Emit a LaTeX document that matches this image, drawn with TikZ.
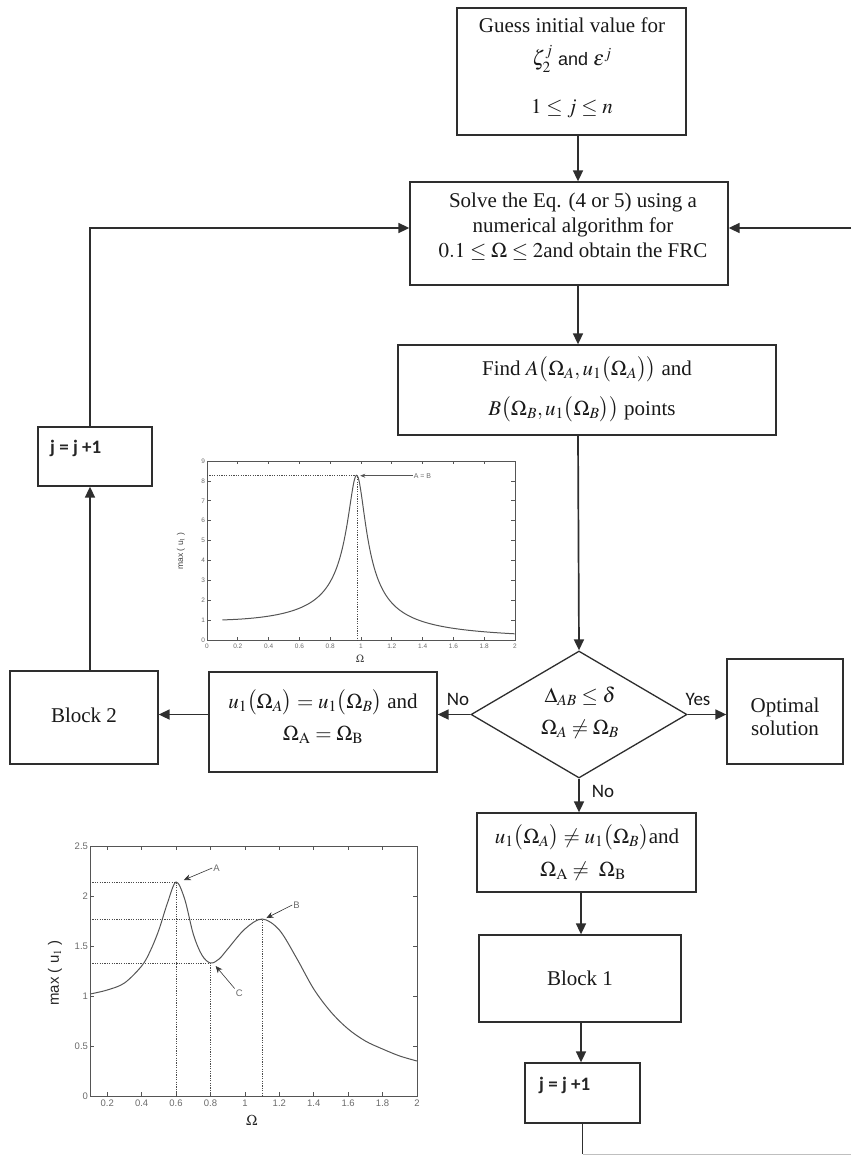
\documentclass[tikz,border=0pt]{standalone}
\usepackage{mathptmx}
\usepackage{fontspec}
\setmainfont{Liberation Serif}
\newfontfamily\calfont{Carlito}
\newfontfamily\helvfont{Liberation Sans}
\usetikzlibrary{arrows.meta,shapes.geometric}
\definecolor{boxc}{HTML}{2E2E2E}
\definecolor{plotc}{HTML}{555555}
\definecolor{tickc}{HTML}{6A6A6A}
\begin{document}
\begin{tikzpicture}[x=1pt,y=-1pt,
  box/.style={draw=boxc, line width=1.3pt, fill=white, inner sep=0pt},
  flow/.style={draw=boxc, line width=1.7pt, -{Triangle[length=11pt,width=10pt]}},
  txt/.style={font=\fontsize{21}{25}\selectfont, inner sep=0pt, text=black!90},
  lbl/.style={font=\calfont\fontsize{19}{19}\selectfont, inner sep=0pt, text=black!90},
  jtxt/.style={font=\calfont\bfseries\fontsize{19}{19}\selectfont, inner sep=0pt, text=black!85},
  stick/.style={font=\helvfont\fontsize{6.5}{7}\selectfont, text=tickc, inner sep=1pt},
  btick/.style={font=\helvfont\fontsize{9.5}{10}\selectfont, text=tickc, inner sep=1pt},
  pline/.style={draw=plotc, line width=1pt},
  frame/.style={draw=plotc, line width=0.7pt},
  dline/.style={draw=black!70, line width=0.7pt, dash pattern=on 1.2pt off 1.2pt}
]
\useasboundingbox (0,0) rectangle (851,1156);

% ---------------- boxes ----------------
\node[box, minimum width=229pt, minimum height=127pt] (guess) at (571.5,71.5) {};
\node[box, minimum width=318pt, minimum height=103pt] (solve) at (569,233.5) {};
\node[box, minimum width=378pt, minimum height=90pt] (find) at (587,390) {};
\node[draw=boxc, line width=1.3pt, fill=white, diamond, inner sep=0pt,
      minimum width=216pt, minimum height=127pt] (dia) at (579,714.5) {};
\node[box, minimum width=228pt, minimum height=100pt] (u1eq) at (323,722) {};
\node[box, minimum width=116pt, minimum height=105pt] (opt) at (785,711.5) {};
\node[box, minimum width=219pt, minimum height=79pt] (u1ne) at (586.5,852.5) {};
\node[box, minimum width=202pt, minimum height=87pt] (block1) at (580,978.5) {};
\node[box, minimum width=115pt, minimum height=60pt] (jbot) at (582.5,1093) {};
\node[box, minimum width=148pt, minimum height=93pt] (block2) at (84,717.5) {};
\node[box, minimum width=114pt, minimum height=59pt] (jtop) at (95,456.5) {};

% ---------------- texts ----------------
\node[txt, anchor=base] (g1) at (572,33) {Guess initial value for};
\node[txt, anchor=base] (g2) at (572,66) {$\zeta_2^j$ {\helvfont\fontsize{18}{18}\selectfont and} $\varepsilon^j$};
\node[txt, anchor=base] (g3) at (572,113) {$1\le j\le n$};

\node[txt, anchor=base] (s1) at (573,207) {Solve the Eq. (4 or 5) using a};
\node[txt, anchor=base] (s2) at (573,232) {numerical algorithm for};
\node[txt, anchor=base] (s3) at (573,257) {$0.1\le\Omega\le2$and obtain the FRC};

\node[txt, anchor=base] (f1) at (587,375) {Find $A\bigl(\Omega_A,u_1\bigl(\Omega_A\bigr)\bigr)$ and};
\node[txt, anchor=base] (f2) at (582,415) {$B\bigl(\Omega_B,u_1\bigl(\Omega_B\bigr)\bigr)$ points};

\node[txt, anchor=base] (d1) at (580,702) {$\Delta_{AB}\le\delta$};
\node[txt, anchor=base] (d2) at (580,734) {$\Omega_A\ne\Omega_B$};

\node[txt, anchor=base] (e1) at (323,708) {$u_1\bigl(\Omega_A\bigr)=u_1\bigl(\Omega_B\bigr)$ and};
\node[txt, anchor=base] (e2) at (323,740) {$\Omega_{\mathrm{A}}=\Omega_{\mathrm{B}}$};

\node[txt, anchor=base] (o1) at (785,712) {Optimal};
\node[txt, anchor=base] (o2) at (785,735) {solution};

\node[txt, anchor=base] (n1) at (587,843) {$u_1\bigl(\Omega_A\bigr)\ne u_1\bigl(\Omega_B\bigr)$and};
\node[txt, anchor=base] (n2) at (583,876) {$\Omega_{\mathrm{A}}\ne\ \Omega_{\mathrm{B}}$};

\node[txt] (b1t) at (block1.center) {Block 1};
\node[txt] (b2t) at (84,715) {Block 2};

\node[jtxt, anchor=base west] (jt) at (50,453) {j = j +1};
\node[jtxt, anchor=base west] (jb) at (539,1090) {j = j +1};

\node[lbl, anchor=base] (no1) at (458,705) {No};
\node[lbl, anchor=base] (yes) at (698,705) {Yes};
\node[lbl, anchor=base] (no2) at (603,797) {No};

% ---------------- connectors ----------------
\coordinate (colx) at (578,0);
\coordinate (colb) at (581,0);
\coordinate (lx) at (90,0);
\coordinate (ly) at (0,228);
\coordinate (redge) at (851,228);
\coordinate (bot) at (0,1154);
\coordinate (botr) at (851,1154);

\draw[flow] (colx |- guess.south) -- (colx |- solve.north);
\draw[flow] (colx |- solve.south) -- (colx |- find.north);
\draw[flow] (colx |- find.south) -- (dia.north);
\draw[flow] (dia.west) -- (u1eq.east |- dia.west);
\draw[flow] (dia.east) -- (opt.west |- dia.east);
\draw[flow] (dia.south) -- (dia.south |- u1ne.north);
\draw[flow] (colb |- u1ne.south) -- (colb |- block1.north);
\draw[flow] (colb |- block1.south) -- (colb |- jbot.north);
\draw[boxc, line width=1.7pt] (jbot.south) -- (jbot.south |- bot);
\draw[black!25, line width=0.8pt] (jbot.south |- bot) -- (botr);
\draw[flow] (redge) -- (solve.east |- redge);
\draw[flow] (u1eq.west |- dia.west) -- (block2.east |- dia.west);
\draw[flow] (lx |- block2.north) -- (lx |- jtop.south);
\draw[flow] (lx |- jtop.north) -- (lx |- ly) -- (solve.west |- ly);

% ---------------- small plot ----------------
\begin{scope}[shift={(207,640)}, x=154pt, y=19.889pt]
  \draw[frame] (0,0) rectangle (2,9);
  \foreach \i in {0,...,10}{
    \pgfmathsetmacro{\t}{\i/5}
    \draw[frame] (\t,0) -- ++(0,0.15);
    \draw[frame] (\t,9) -- ++(0,-0.15);
  }
  \foreach \t/\l [count=\k] in {0/0,0.2/0.2,0.4/0.4,0.6/0.6,0.8/0.8,1/1,1.2/1.2,1.4/1.4,1.6/1.6,1.8/1.8,2/2}{
    \node[stick, anchor=north] (sx\k) at (\t,-0.15) {\l};
  }
  \foreach \v in {0,...,9}{
    \draw[frame] (0,\v) -- ++(0.025,0);
    \draw[frame] (2,\v) -- ++(-0.025,0);
    \node[stick, anchor=east] (sy\v) at (-0.005,\v) {\v};
  }
  \draw[pline] plot[domain=0.1:2, samples=300, smooth]
    (\x,{1/sqrt((1-(\x/0.975)^2)^2+(0.121*\x/0.975)^2)});
  \draw[dline] (0,8.26) -- (0.975,8.26) -- (0.975,0);
  \node[stick, anchor=west, font=\helvfont\fontsize{7}{7}\selectfont] (ab) at (1.335,8.26) {A = B};
  \draw[plotc, line width=0.6pt, -{Stealth[length=5pt,width=4pt]}] (ab.west) -- (0.995,8.26);
\end{scope}
\node[font=\helvfont\fontsize{8.5}{9}\selectfont, text=black!75, rotate=90] (sylab) at (181,551) {max ( u$_1$ )};
\node[font=\fontsize{11}{11}\selectfont, text=black!75] (sxlab) at (360,659) {$\Omega$};

% ---------------- big plot ----------------
\begin{scope}[shift={(72.8,1096)}, x=172.1pt, y=100pt]
  \draw[frame] (0.1,0) rectangle (2,2.5);
  \foreach \i in {1,...,10}{
    \pgfmathsetmacro{\t}{\i/5}
    \draw[frame] (\t,0) -- ++(0,0.04);
    \draw[frame] (\t,2.5) -- ++(0,-0.04);
  }
  \foreach \t/\l [count=\k] in {0.2/0.2,0.4/0.4,0.6/0.6,0.8/0.8,1/1,1.2/1.2,1.4/1.4,1.6/1.6,1.8/1.8,2/2}{
    \node[btick, anchor=north] (bx\k) at (\t,-0.03) {\l};
  }
  \foreach \v/\l [count=\k] in {0/0,0.5/0.5,1/1,1.5/1.5,2/2,2.5/2.5}{
    \draw[frame] (0.1,\v) -- ++(0.025,0);
    \draw[frame] (2,\v) -- ++(-0.025,0);
    \node[btick, anchor=east] (by\k) at (0.095,\v) {\l};
  }
  \draw[pline] plot[smooth, tension=0.55] coordinates {
    (0.1,1.02) (0.2,1.06) (0.3,1.13) (0.4,1.30) (0.45,1.45) (0.5,1.66)
    (0.55,1.93) (0.6,2.14) (0.65,1.97) (0.7,1.62) (0.75,1.41) (0.8,1.33)
    (0.85,1.37) (0.9,1.47) (1.0,1.67) (1.1,1.77) (1.2,1.66) (1.3,1.38)
    (1.4,1.07) (1.5,0.84) (1.6,0.67) (1.7,0.55) (1.8,0.47) (1.9,0.40) (2.0,0.35)};
  \draw[dline] (0.1,2.14) -- (0.6,2.14) -- (0.6,0);
  \draw[dline] (0.1,1.77) -- (1.1,1.77) -- (1.1,0);
  \draw[dline] (0.1,1.33) -- (0.8,1.33) -- (0.8,0);
  \node[btick, anchor=west] (la) at (0.81,2.28) {A};
  \node[btick, anchor=west] (lb) at (1.275,1.91) {B};
  \node[btick, anchor=west] (lc) at (0.94,1.03) {C};
  \draw[black!80, line width=0.6pt, -{Stealth[length=7pt,width=6pt]}] (la.west) -- (0.645,2.16);
  \draw[black!80, line width=0.6pt, -{Stealth[length=7pt,width=6pt]}] (lb.west) -- (1.125,1.78);
  \draw[black!80, line width=0.6pt, -{Stealth[length=7pt,width=6pt]}] (lc.north west) -- (0.83,1.3);
\end{scope}
\node[font=\helvfont\fontsize{15}{15}\selectfont, text=black!85, rotate=90] (bylab) at (55,973) {max ( u$_1$ )};
\node[font=\fontsize{15}{15}\selectfont, text=black!85] (bxlab) at (252,1120) {$\Omega$};
\end{tikzpicture}
\end{document}
